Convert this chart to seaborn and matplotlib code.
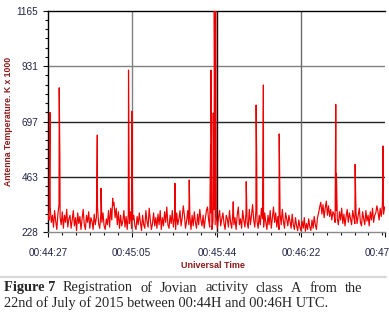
import numpy as np
import pandas as pd
import matplotlib
matplotlib.use("Agg")
import matplotlib.pyplot as plt
from matplotlib.ticker import FixedLocator, FixedFormatter, AutoMinorLocator
from matplotlib.lines import Line2D
import seaborn as sns

# ---------------- data ----------------
sample_step = 0.5  # seconds after 00:44:27
baseline = [
    310, 280, 335, 270, 300, 250, 320, 275, 240, 305, 345, 290, 260, 315, 245, 300, 270, 325, 250, 285,
    300, 245, 280, 320, 255, 290, 235, 310, 265, 295, 240, 285, 325, 260, 240, 300, 270, 315, 245, 290,
    275, 240, 305, 260, 290, 335, 265, 245, 300, 270, 310, 255, 240, 285, 260, 320, 250, 330, 280, 340,
    355, 290, 330, 260, 315, 245, 300, 255, 275, 320, 250, 295, 240, 305, 265, 315, 245, 280, 300, 255,
    240, 295, 260, 310, 270, 235, 300, 260, 245, 320, 275, 250, 330, 280, 240, 265, 310, 255, 290, 245,
    305, 260, 320, 240, 290, 255, 315, 270, 335, 260, 245, 300, 265, 320, 250, 290, 240, 310, 260, 285,
    320, 255, 290, 340, 300, 245, 275, 320, 260, 295, 240, 300, 255, 315, 270, 245, 305, 260, 325, 280,
    255, 300, 245, 285, 320, 335, 280, 250, 310, 240, 275, 325, 260, 300, 245, 290, 320, 255, 285, 310,
    265, 240, 300, 285, 250, 320, 270, 245, 310, 260, 290, 240, 300, 335, 260, 285, 245, 320, 280, 250,
    310, 270, 245, 325, 260, 300, 345, 280, 250, 320, 275, 245, 300, 260, 330, 285, 250, 310, 270, 240,
    300, 260, 320, 245, 290, 335, 270, 310, 250, 295, 240, 305, 260, 325, 275, 245, 310, 285, 255, 300,
    275, 245, 305, 260, 240, 290, 255, 235, 280, 250, 235, 275, 245, 290, 232, 265, 240, 285, 250, 236,
    280, 245, 295, 260, 240, 290, 310, 335, 355, 305, 345, 290, 330, 360, 300, 340, 295, 325, 280, 315,
    305, 270, 320, 285, 260, 315, 280, 330, 265, 305, 255, 295, 325, 270, 310, 285, 260, 320, 290, 265,
    310, 265, 300, 330, 270, 255, 315, 285, 260, 320, 275, 300, 255, 315, 280, 330, 270, 300, 310, 340,
    315, 280, 330, 295, 345, 305, 335,
]
spike_times = [0.9, 5.1, 5.4, 22.4, 24.1, 29.4, 36.6, 38.1, 57.7, 64.2, 73.9, 74.1, 75.1, 75.6, 76.2,
               84.2, 90.1, 94.6, 94.9, 97.9, 105.1, 130.8, 131.1, 139.6, 152.3]
spike_values = [735, 839, 548, 639, 414, 372, 914, 740, 435, 449, 597, 914, 732, 1165, 1165,
                357, 442, 766, 499, 851, 644, 769, 477, 515, 593]

x_tick_seconds = [0, 38, 77, 115, 153]
x_tick_labels = ["00:44:27", "00:45:05", "00:45:44", "00:46:22", "00:47:00"]
y_tick_values = [228, 462.25, 696.5, 930.75, 1165]
y_tick_labels = ["228", "463", "697", "931", "1165"]

caption_bold = "Figure 7"
caption_line1_words = ["Registration", "of", "Jovian", "activity", "class", "A", "from", "the"]
caption_line2 = "22nd of July of 2015 between 00:44H and 00:46H UTC."

# ---------------- build table ----------------
base_df = pd.DataFrame({"t": np.arange(len(baseline)) * sample_step, "v": baseline})
spike_df = pd.DataFrame({"t": spike_times, "v": spike_values})
df = pd.concat([base_df, spike_df], ignore_index=True).sort_values("t").reset_index(drop=True)

# ---------------- figure ----------------
sns.set_style("white")
plt.rcParams["font.family"] = ["Liberation Sans", "DejaVu Sans"]

W, H = 389, 315
fig = plt.figure(figsize=(W / 100, H / 100), dpi=100)
ax = fig.add_axes([48 / W, 1 - 232.3 / H, (384.6 - 48) / W, (232.3 - 10.7) / H])

sns.lineplot(data=df, x="t", y="v", ax=ax, color="#ee0000", linewidth=0.85,
             estimator=None, sort=True, zorder=3)

ax.set_xlim(x_tick_seconds[0], x_tick_seconds[-1])
ax.set_ylim(y_tick_values[0], y_tick_values[-1])

# grid lines
for yv, c in zip(y_tick_values[1:4], ["#222222", "#222222", "#808080"]):
    ax.axhline(yv, color=c, lw=1.0, zorder=1)
for xv, c in zip(x_tick_seconds[1:4], ["#808080", "#111111", "#6a6a6a"]):
    ax.axvline(xv, color=c, lw=1.0, zorder=1)

# ticks
tick_color = "#23234a"
ax.xaxis.set_major_locator(FixedLocator(x_tick_seconds))
ax.xaxis.set_major_formatter(FixedFormatter(x_tick_labels))
ax.yaxis.set_major_locator(FixedLocator(y_tick_values))
ax.yaxis.set_major_formatter(FixedFormatter(y_tick_labels))
ax.xaxis.set_minor_locator(AutoMinorLocator(6))
ax.yaxis.set_minor_locator(AutoMinorLocator(6))
ax.tick_params(axis="both", which="major", direction="out", length=3.5, width=0.8,
               color="#111111", labelsize=7.2, labelcolor=tick_color, bottom=True, left=True)
ax.tick_params(axis="both", which="minor", direction="out", length=2, width=0.8,
               color="#111111", bottom=True, left=True)
ax.tick_params(axis="x", which="major", pad=7.5)
ax.tick_params(axis="y", which="major", pad=3.5)

for side in ["top", "left"]:
    ax.spines[side].set_color("black")
    ax.spines[side].set_linewidth(1.0)
ax.spines["bottom"].set_color("#8a8a8a")
ax.spines["bottom"].set_linewidth(1.0)
ax.spines["right"].set_visible(False)

label_color = "#8b1a1a"
ax.set_xlabel("Universal Time", fontsize=6.5, fontweight="bold", color=label_color)
ax.set_ylabel("Antenna Temperature. K x 1000", fontsize=6.2, fontweight="bold", color=label_color)
ax.xaxis.set_label_coords((213 - 48) / 336.6, -(261 - 232.3) / 221.6)
ax.yaxis.set_label_coords(-(48 - 13) / 336.6, 0.5)

# separator line and caption
fig.add_artist(Line2D([0, 386 / W], [1 - 277 / H, 1 - 277 / H], color="#d8d8d8", lw=1.6))
serif = ["Liberation Serif", "DejaVu Serif"]
cap_fs = 10.4
y1 = 1 - 288 / H
y2 = 1 - 303 / H
word_texts = [fig.text(0, y1, caption_bold, fontsize=cap_fs, fontweight="bold", family=serif,
                       va="center", ha="left")]
for w in caption_line1_words:
    word_texts.append(fig.text(0, y1, w, fontsize=cap_fs, family=serif, va="center", ha="left"))
fig.canvas.draw()
widths = [t.get_window_extent().width for t in word_texts]
x_start, x_end = 4.0, 362.0
gap = (x_end - x_start - sum(widths)) / (len(widths) - 1)
xpos = x_start
for t, wd in zip(word_texts, widths):
    t.set_x(xpos / W)
    xpos += wd + gap
fig.text(4 / W, y2, caption_line2, fontsize=cap_fs, family=serif, va="center", ha="left")

fig.savefig("out.png", dpi=100)
